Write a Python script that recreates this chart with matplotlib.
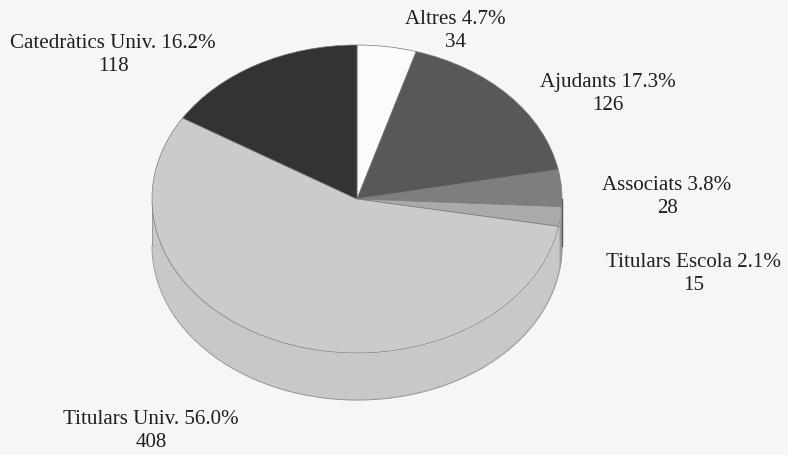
import numpy as np
import matplotlib
matplotlib.use("Agg")
import matplotlib.pyplot as plt

categories = ["Altres", "Ajudants", "Associats", "Titulars Escola", "Titulars Univ.", "Catedràtics Univ."]
values = [34, 126, 28, 15, 408, 118]
percents = ["4.7%", "17.3%", "3.8%", "2.1%", "56.0%", "16.2%"]
colors = ["#fbfbf9", "#585858", "#7e7e7e", "#aaaaaa", "#cbcbcb", "#333333"]
wall_colors = ["#fbfbf9", "#585858", "#6e6e6e", "#9a9a9a", "#c8c8c8", "#333333"]
label_px = [(455, 31), (608, 94), (667, 197), (694, 274), (151, 431), (113, 55)]

W, H = 788, 456
BG = "#f6f6f4"
cx, cy, rx, ry, depth = 357, 200, 205, 154, 47

fig = plt.figure(figsize=(W / 100, H / 100), dpi=100, facecolor=BG)
ax = fig.add_axes([0, 0, 1, 1])
ax.set_facecolor(BG)

# Side wall: visible front half of the cylinder
fracs = np.array(values) / sum(values)
edges = np.concatenate([[0], np.cumsum(fracs)]) * 360
d = depth / ry
for i in range(len(values)):
    a0, a1 = max(edges[i], 90), min(edges[i + 1], 270)
    if a1 <= a0:
        continue
    t = np.radians(np.linspace(a0, a1, 200))
    ax.fill_between(np.sin(t), np.cos(t) - d, np.cos(t), color=wall_colors[i], lw=0, zorder=1)
t = np.radians(np.linspace(90, 270, 400))
ax.plot(np.sin(t), np.cos(t) - d, color="#999999", lw=0.7, zorder=2)
ax.plot([1, 1], [0, -d], color="#555555", lw=1.0, zorder=2)
ax.plot([-1, -1], [0, -d], color="#999999", lw=0.7, zorder=2)

wedges, _ = ax.pie(values, colors=colors, startangle=90, counterclock=False, radius=1,
                   frame=True, wedgeprops=dict(edgecolor="#787878", linewidth=0.5))
for w in wedges:
    w.set_zorder(3)

ax.set_aspect("auto")
ax.set_xlim(-cx / rx, (W - cx) / rx)
ax.set_ylim(-(H - cy) / ry, cy / ry)
ax.axis("off")

for name, pct, val, (x, y) in zip(categories, percents, values, label_px):
    fig.text(x / W, 1 - y / H, f"{name} {pct}\n{val}", ha="center", va="center",
             family="Liberation Serif", fontsize=15.1, color="#1e1e1e", linespacing=1.25)

fig.savefig("out.png", dpi=100, facecolor=BG)
